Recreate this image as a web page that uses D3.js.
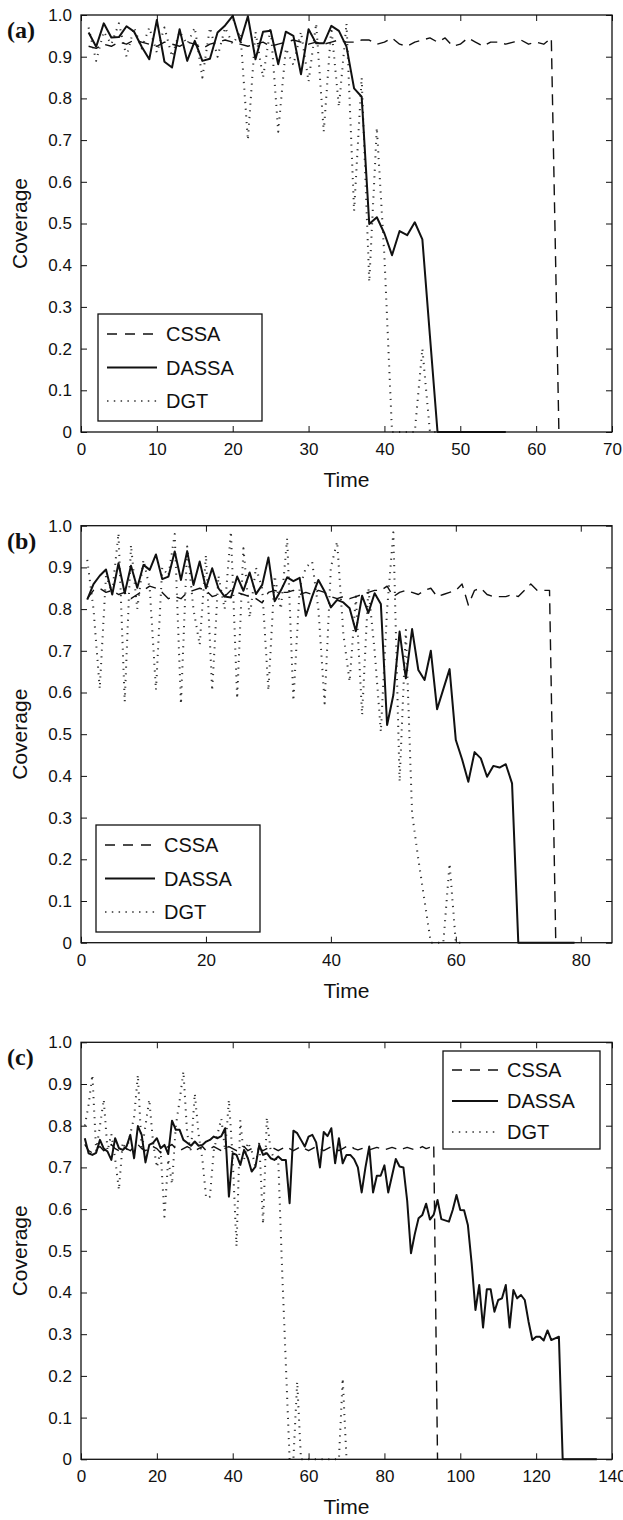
<!DOCTYPE html>
<html>
<head>
<meta charset="utf-8">
<script src="https://cdn.jsdelivr.net/npm/d3@7"></script>
<style>
  body { margin: 0; background: #fff; }
  svg text { font-family: "Liberation Sans", Arial, sans-serif; fill: #111; }
</style>
</head>
<body>
<div class="chart"></div>
<script>
// ---- data: coverage per time step, time starts at 1 ----

// panel (a)
const cssaA = [0.925, 0.92, 0.93, 0.925, 0.935, 0.93, 0.94, 0.935, 0.93, 0.925,
  0.935, 0.93, 0.925, 0.935, 0.93, 0.92, 0.93, 0.935, 0.94, 0.935,
  0.93, 0.925, 0.93, 0.935, 0.925, 0.93, 0.935, 0.94, 0.935, 0.93,
  0.935, 0.93, 0.935, 0.94, 0.935, 0.935, 0.94, 0.94, 0.93, 0.935,
  0.945, 0.93, 0.925, 0.935, 0.94, 0.945, 0.935, 0.945, 0.925, 0.93,
  0.945, 0.935, 0.925, 0.935, 0.935, 0.93, 0.935, 0.94, 0.93, 0.935,
  0.93, 0.945, 0];
const dassaA = [0.958, 0.924, 0.98, 0.946, 0.947, 0.973, 0.96, 0.924, 0.894, 0.988,
  0.888, 0.874, 0.966, 0.89, 0.938, 0.89, 0.895, 0.958, 0.975, 0.998,
  0.936, 0.997, 0.894, 0.96, 0.962, 0.882, 0.96, 0.95, 0.858, 0.966,
  0.932, 0.932, 0.974, 0.962, 0.924, 0.824, 0.804, 0.499, 0.515, 0.476,
  0.424, 0.482, 0.472, 0.503, 0.462, 0.23, 0, 0, 0, 0,
  0, 0, 0, 0, 0, 0];
const dgtA = [0.97, 0.89, 0.96, 0.93, 0.98, 0.9, 0.97, 0.92, 0.97, 0.91,
  0.97, 0.9, 0.96, 0.93, 0.97, 0.85, 0.97, 0.9, 0.97, 0.93,
  0.96, 0.7, 0.96, 0.85, 0.97, 0.72, 0.92, 0.88, 0.96, 0.84,
  0.98, 0.72, 0.97, 0.78, 0.98, 0.53, 0.85, 0.36, 0.73, 0.42,
  0, 0, 0, 0, 0.2, 0, 0];

// panel (b)
const cssaB = [0.825, 0.845, 0.85, 0.84, 0.845, 0.835, 0.84, 0.825, 0.835, 0.845,
  0.855, 0.85, 0.84, 0.825, 0.83, 0.825, 0.84, 0.845, 0.85, 0.845,
  0.83, 0.835, 0.83, 0.845, 0.84, 0.835, 0.83, 0.825, 0.815, 0.84,
  0.845, 0.84, 0.84, 0.845, 0.835, 0.84, 0.835, 0.845, 0.84, 0.83,
  0.825, 0.83, 0.825, 0.83, 0.835, 0.84, 0.845, 0.845, 0.855, 0.83,
  0.84, 0.845, 0.84, 0.835, 0.845, 0.85, 0.83, 0.835, 0.84, 0.845,
  0.86, 0.81, 0.845, 0.85, 0.835, 0.83, 0.83, 0.83, 0.835, 0.83,
  0.845, 0.86, 0.845, 0.845, 0.845, 0];
const dassaB = [0.823, 0.86, 0.88, 0.895, 0.835, 0.91, 0.838, 0.904, 0.851, 0.906,
  0.894, 0.931, 0.872, 0.878, 0.938, 0.87, 0.939, 0.858, 0.914, 0.85,
  0.898, 0.85, 0.83, 0.828, 0.878, 0.844, 0.888, 0.836, 0.858, 0.924,
  0.819, 0.845, 0.876, 0.867, 0.875, 0.784, 0.83, 0.87, 0.842, 0.804,
  0.822, 0.816, 0.802, 0.747, 0.832, 0.791, 0.838, 0.812, 0.522, 0.594,
  0.746, 0.634, 0.752, 0.654, 0.63, 0.7, 0.56, 0.608, 0.656, 0.486,
  0.44, 0.386, 0.457, 0.442, 0.398, 0.424, 0.42, 0.428, 0.382, 0,
  0, 0, 0, 0, 0, 0, 0, 0, 0];
const dgtB = [0.918, 0.8, 0.609, 0.88, 0.84, 0.982, 0.578, 0.954, 0.8, 0.918,
  0.85, 0.606, 0.9, 0.88, 0.98, 0.572, 0.95, 0.8, 0.714, 0.93,
  0.604, 0.88, 0.8, 0.986, 0.585, 0.946, 0.78, 0.9, 0.85, 0.605,
  0.88, 0.8, 0.97, 0.58, 0.85, 0.9, 0.914, 0.8, 0.574, 0.9,
  0.962, 0.74, 0.626, 0.83, 0.546, 0.85, 0.7, 0.506, 0.8, 0.984,
  0.386, 0.75, 0.31, 0.2, 0.1, 0, 0, 0, 0.19, 0,
  0];

// panel (c)
const cssaC = [0.755, 0.74, 0.735, 0.745, 0.75, 0.74, 0.745, 0.755, 0.745, 0.74,
  0.75, 0.745, 0.74, 0.75, 0.755, 0.745, 0.74, 0.745, 0.75, 0.745,
  0.735, 0.745, 0.75, 0.755, 0.745, 0.74, 0.745, 0.75, 0.745, 0.74,
  0.745, 0.75, 0.74, 0.745, 0.75, 0.745, 0.74, 0.745, 0.75, 0.745,
  0.74, 0.745, 0.75, 0.74, 0.745, 0.75, 0.745, 0.74, 0.745, 0.75,
  0.745, 0.74, 0.745, 0.75, 0.745, 0.74, 0.745, 0.75, 0.745, 0.74,
  0.745, 0.75, 0.745, 0.74, 0.745, 0.75, 0.745, 0.74, 0.745, 0.75,
  0.752, 0.745, 0.742, 0.745, 0.748, 0.742, 0.745, 0.748, 0.745, 0.742,
  0.745, 0.748, 0.745, 0.742, 0.745, 0.748, 0.745, 0.742, 0.745, 0.75,
  0.745, 0.748, 0.755, 0];
const dassaC = [0.77, 0.734, 0.73, 0.735, 0.766, 0.745, 0.738, 0.718, 0.77, 0.746,
  0.742, 0.75, 0.778, 0.722, 0.799, 0.778, 0.712, 0.754, 0.759, 0.77,
  0.746, 0.754, 0.732, 0.812, 0.79, 0.79, 0.766, 0.759, 0.752, 0.762,
  0.752, 0.754, 0.762, 0.766, 0.774, 0.77, 0.775, 0.794, 0.63, 0.734,
  0.73, 0.706, 0.742, 0.722, 0.69, 0.702, 0.754, 0.73, 0.734, 0.722,
  0.718, 0.726, 0.718, 0.718, 0.614, 0.788, 0.782, 0.766, 0.75, 0.774,
  0.778, 0.76, 0.7, 0.785, 0.775, 0.794, 0.71, 0.77, 0.71, 0.73,
  0.73, 0.72, 0.7, 0.64, 0.7, 0.75, 0.64, 0.68, 0.68, 0.705,
  0.64, 0.68, 0.72, 0.702, 0.7, 0.62, 0.494, 0.54, 0.578, 0.586,
  0.613, 0.575, 0.587, 0.622, 0.576, 0.573, 0.57, 0.598, 0.634, 0.598,
  0.597, 0.562, 0.47, 0.358, 0.418, 0.316, 0.408, 0.408, 0.354, 0.382,
  0.386, 0.418, 0.316, 0.406, 0.386, 0.394, 0.382, 0.33, 0.286, 0.294,
  0.294, 0.285, 0.309, 0.286, 0.29, 0.294, 0, 0, 0, 0,
  0, 0, 0, 0, 0, 0];
const dgtC = [0.8, 0.85, 0.922, 0.74, 0.8, 0.863, 0.74, 0.78, 0.72, 0.646,
  0.76, 0.74, 0.78, 0.82, 0.922, 0.74, 0.8, 0.863, 0.76, 0.7,
  0.74, 0.582, 0.72, 0.66, 0.8, 0.86, 0.93, 0.78, 0.74, 0.877,
  0.78, 0.72, 0.626, 0.63, 0.74, 0.78, 0.817, 0.74, 0.862, 0.72,
  0.51, 0.813, 0.72, 0.76, 0.74, 0.7, 0.76, 0.564, 0.82, 0.74,
  0.72, 0.72, 0.46, 0.23, 0, 0, 0.186, 0, 0, 0,
  0, 0, 0, 0, 0, 0, 0, 0, 0.194, 0];

// axis ticks
const yTicks = [0, 0.1, 0.2, 0.3, 0.4, 0.5, 0.6, 0.7, 0.8, 0.9, 1.0];
const yTickLabels = ["0", "0.1", "0.2", "0.3", "0.4", "0.5", "0.6", "0.7", "0.8", "0.9", "1.0"];
const xTicksA = [0, 10, 20, 30, 40, 50, 60, 70];
const xTicksB = [0, 20, 40, 60, 80];
const xTicksC = [0, 20, 40, 60, 80, 100, 120, 140];
const seriesNames = ["CSSA", "DASSA", "DGT"];

// ---- layout ----
const width = 623, height = 1520;
const left = 81, right = 612, plotH = 417;

const svg = d3.select(".chart")
  .append("svg")
  .attr("width", width)
  .attr("height", height);

const styles = {
  CSSA: {stroke: "#111", width: 1.4, dash: "11,7"},
  DASSA: {stroke: "#111", width: 2, dash: null},
  DGT: {stroke: "#333", width: 2, dash: "1.2,5.5"}
};

function drawPanel(p) {
  const x = d3.scaleLinear().domain([0, p.xMax]).range([left, right]);
  const y = d3.scaleLinear().domain([0, 1]).range([p.top + plotH, p.top]);
  const g = svg.append("g");

  const line = d3.line()
    .x((d, i) => x(i + 1))
    .y(d => y(d));

  // draw dotted first, solid on top
  [["DGT", p.dgt], ["CSSA", p.cssa], ["DASSA", p.dassa]].forEach(([name, vals]) => {
    const s = styles[name];
    g.append("path")
      .datum(vals)
      .attr("d", line)
      .attr("fill", "none")
      .attr("stroke", s.stroke)
      .attr("stroke-width", s.width)
      .attr("stroke-linejoin", "round")
      .attr("stroke-dasharray", s.dash);
  });

  // inward ticks on all four sides
  const fmt = v => yTickLabels[yTicks.indexOf(v)];
  g.append("g")
    .attr("transform", `translate(0,${y(0)})`)
    .call(d3.axisBottom(x).tickValues(p.xTicks).tickSize(-6).tickSizeOuter(0).tickPadding(11))
    .call(a => a.select(".domain").remove());
  g.append("g")
    .attr("transform", `translate(0,${y(1)})`)
    .call(d3.axisTop(x).tickValues(p.xTicks).tickSize(-6).tickSizeOuter(0).tickFormat(""))
    .call(a => a.select(".domain").remove());
  g.append("g")
    .attr("transform", `translate(${left},0)`)
    .call(d3.axisLeft(y).tickValues(yTicks).tickFormat(fmt).tickSize(-6).tickSizeOuter(0).tickPadding(9))
    .call(a => a.select(".domain").remove());
  g.append("g")
    .attr("transform", `translate(${right},0)`)
    .call(d3.axisRight(y).tickValues(yTicks).tickSize(-6).tickSizeOuter(0).tickFormat(""))
    .call(a => a.select(".domain").remove());

  g.selectAll(".tick line").attr("stroke", "#111").attr("stroke-width", 1);
  g.selectAll(".tick text")
    .attr("font-size", 17)
    .attr("font-family", "Liberation Sans, Arial, sans-serif")
    .attr("fill", "#111");

  // box
  g.append("rect")
    .attr("x", left).attr("y", p.top)
    .attr("width", right - left).attr("height", plotH)
    .attr("fill", "none").attr("stroke", "#111").attr("stroke-width", 1.3);

  // axis titles
  g.append("text")
    .attr("x", (left + right) / 2).attr("y", y(0) + 55)
    .attr("text-anchor", "middle").attr("font-size", 21)
    .text("Time");
  g.append("text")
    .attr("transform", `translate(27,${p.top + plotH / 2}) rotate(-90)`)
    .attr("text-anchor", "middle").attr("font-size", 21)
    .text("Coverage");

  // panel label
  g.append("text")
    .attr("x", 7).attr("y", p.top + 23)
    .attr("font-size", 24).attr("font-weight", "bold")
    .style("font-family", "'Liberation Serif', 'Times New Roman', serif")
    .text(p.label);

  // legend
  const lg = g.append("g").attr("transform", `translate(${p.legend.x},${p.legend.y})`);
  lg.append("rect")
    .attr("width", p.legend.w).attr("height", p.legend.h)
    .attr("fill", "#fff").attr("stroke", "#111").attr("stroke-width", 1.3);
  seriesNames.forEach((name, i) => {
    const s = styles[name];
    const ly = p.legend.first + i * p.legend.step;
    lg.append("line")
      .attr("x1", 9).attr("x2", 9 + p.legend.len)
      .attr("y1", ly).attr("y2", ly)
      .attr("stroke", s.stroke).attr("stroke-width", name === "DGT" ? 1.6 : s.width)
      .attr("stroke-dasharray", name === "CSSA" ? "10,8" : name === "DGT" ? "1.5,5.3" : null);
    lg.append("text")
      .attr("x", 9 + p.legend.len + 9).attr("y", ly + 7)
      .attr("font-size", 20)
      .text(name);
  });
}

drawPanel({label: "(a)", top: 15, xMax: 70, xTicks: xTicksA,
  cssa: cssaA, dassa: dassaA, dgt: dgtA,
  legend: {x: 98, y: 314, w: 164, h: 107, first: 20, step: 33.5, len: 50}});
drawPanel({label: "(b)", top: 525.7, xMax: 85, xTicks: xTicksB,
  cssa: cssaB, dassa: dassaB, dgt: dgtB,
  legend: {x: 96, y: 825, w: 164, h: 107, first: 20, step: 33.5, len: 50}});
drawPanel({label: "(c)", top: 1042.3, xMax: 140, xTicks: xTicksC,
  cssa: cssaC, dassa: dassaC, dgt: dgtC,
  legend: {x: 443, y: 1051, w: 157, h: 98, first: 19, step: 31, len: 46}});
</script>
</body>
</html>
